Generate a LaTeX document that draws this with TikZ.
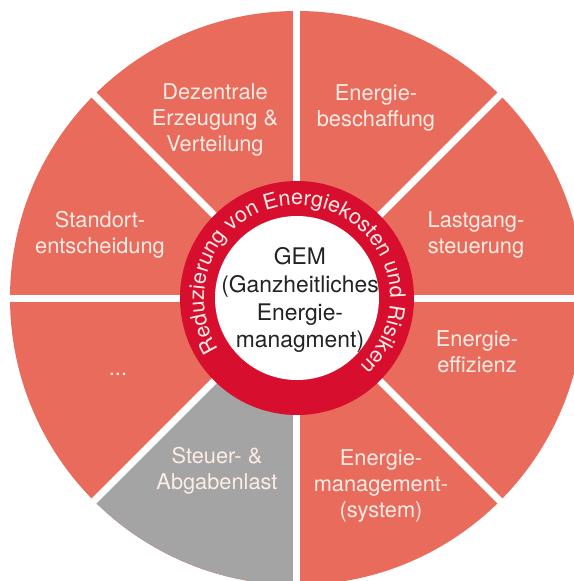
\documentclass[tikz,border=0pt]{standalone}
\usepackage{fontspec}
\setmainfont{TeX Gyre Heros}
\usetikzlibrary{decorations.text}

\definecolor{gemsalmon}{RGB}{233,107,91}
\definecolor{gemgray}{RGB}{164,164,164}
\definecolor{gemred}{RGB}{215,14,45}
\definecolor{gemtext}{RGB}{252,236,230}
\definecolor{gemdark}{RGB}{35,35,35}

\newcommand{\ringfont}{\fontsize{12.2}{14}\selectfont}

\tikzset{
  sector/.style={text=gemtext, align=center, inner sep=0pt, font=\fontsize{12.4}{14.8}\selectfont},
  divider/.style={white, line width=0.14cm},
  core/.style={text=gemdark, align=center, inner sep=0pt, font=\fontsize{13}{15.9}\selectfont},
}

\begin{document}
\begin{tikzpicture}
\useasboundingbox (-5.94,-5.66) rectangle (5.54,5.96);
\clip (-5.94,-5.66) rectangle (5.54,5.96);
\coordinate (c) at (0,0);
% outer wheel
\fill[gemsalmon] (c) circle (5.74);
\fill[gemgray] (c) -- (225:5.74) arc[start angle=225, end angle=270, radius=5.74] -- cycle;
% white gaps between the fields
\draw[divider] (c) -- (0:5.9);
\draw[divider] (c) -- (45:5.9);
\draw[divider] (c) -- (90:5.9);
\draw[divider] (c) -- (135:5.9);
\draw[divider] (c) -- (180:5.9);
\draw[divider] (c) -- (225:5.9);
\draw[divider] (c) -- (270:5.9);
\draw[divider] (c) -- (315:5.9);
% red ring and core
\fill[gemred] (c) circle (2.34);
\fill[white] (c) circle (1.64);
\path[decorate, decoration={text along path, text align=center, text color=gemtext,
  text={|\ringfont|Reduzierung von Energiekosten und Risiken}}]
  (218:1.86) arc[start angle=218, end angle=-52, radius=1.86];
\node[core] (gem) at (0.06,-0.04) {GEM\\(Ganzheitliches\\Energie-\\managment)};
% fields
\node[sector] (dezentral) at (-1.64,3.56) {Dezentrale\\Erzeugung \&\\Verteilung};
\node[sector] (beschaffung) at (1.58,3.81) {Energie-\\beschaffung};
\node[sector] (standort) at (-3.94,1.26) {Standort-\\entscheidung};
\node[sector] (lastgang) at (3.58,1.26) {Lastgang-\\steuerung};
\node[sector, anchor=base] (weitere) at (-3.58,-1.54) {...};
\node[sector] (steuer) at (-1.6,-3.46) {Steuer- \&\\Abgabenlast};
\node[sector] (effizienz) at (3.6,-1.07) {Energie-\\effizienz};
\node[sector] (management) at (1.68,-3.76) {Energie-\\management-\\(system)};
\end{tikzpicture}
\end{document}
